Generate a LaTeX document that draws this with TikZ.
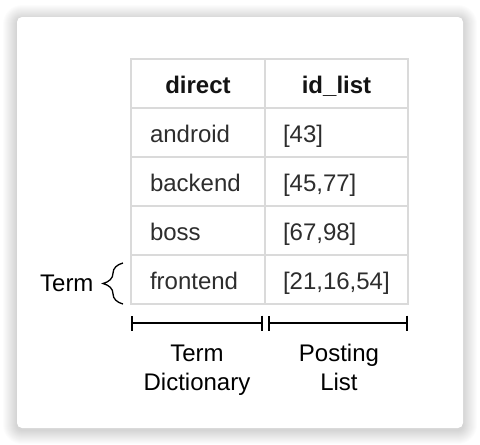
\documentclass[tikz,border=0pt]{standalone}
\usepackage{fontspec}
\setmainfont{Liberation Sans}
\usepackage{tikz}
\usetikzlibrary{arrows.meta,positioning,decorations.pathreplacing}
\definecolor{grid}{RGB}{218, 218, 218}
\definecolor{cellgray}{RGB}{45, 45, 45}
\definecolor{headgray}{RGB}{20, 20, 20}
\newcommand{\tabfont}{\fontsize{24}{29}\selectfont}
\tikzstyle{cell} = [draw=grid, line width=1.5pt, outer sep=0pt, text=cellgray, font=\tabfont, minimum height=49pt, text height=20pt, text depth=0pt, inner ysep=0pt]
\tikzstyle{termcol} = [cell, inner xsep=19pt, text width=96pt]
\tikzstyle{listcol} = [cell, inner xsep=18pt, text width=107pt]
\tikzstyle{head} = [align=center, text=headgray, font=\tabfont\bfseries]
\tikzstyle{body} = [align=left]
\tikzstyle{outer} = [text=black, font=\tabfont, align=center]
\tikzstyle{caption} = [outer, font=\tabfont\strut]
\tikzstyle{termbrace} = [draw, line width=1.3pt, decorate, decoration={brace, amplitude=20pt}]
\tikzstyle{span} = [draw, line width=2pt, {Bar[width=15pt]}-{Bar[width=15pt]}]

\begin{document}
\begin{tikzpicture}[x=1pt, y=-1pt]

% card =============================
\useasboundingbox (0,0) rectangle (480,445);
\fill[white] (0,0) rectangle (480,445);
\foreach \i in {1,...,14}
  \fill[black, opacity=0.012, rounded corners={5+\i}] ({17-\i},{19-\i}) rectangle ({463+\i},{430+\i});
\fill[white, rounded corners=5pt] (17,17) rectangle (463,428);

% table header
\node[termcol, head] (direct) at (198,83.5) {direct};
\node[listcol, head, right=0pt of direct] (idlist) {id\_list};

% terms
\node[termcol, body, below=0pt of direct] (android) {android};
\node[termcol, body, below=0pt of android] (backend) {backend};
\node[termcol, body, below=0pt of backend] (boss) {boss};
\node[termcol, body, below=0pt of boss] (frontend) {frontend};

% posting lists
\node[listcol, body, below=0pt of idlist] (list1) {[43]};
\node[listcol, body, below=0pt of list1] (list2) {[45,77]};
\node[listcol, body, below=0pt of list2] (list3) {[67,98]};
\node[listcol, body, below=0pt of list3] (list4) {[21,16,54]};

% term brace
\coordinate[left=8pt of frontend.south west] (bracebot);
\coordinate[below left=8pt and 8pt of frontend.north west] (bracetop);
\coordinate[below left=4pt and 28pt of frontend.west] (bracetip);
\node[outer, left=6pt of bracetip] (term) {Term};

% spans
\coordinate[below=19pt of frontend.south west] (dictl);
\coordinate[below left=19pt and 2.5pt of frontend.south east] (dictr);
\coordinate[below right=19pt and 2.5pt of list4.south west] (postl);
\coordinate[below=19pt of list4.south east] (postr);
\node[caption, below=37pt of frontend.south, xshift=-1pt] (dict) {Term\\Dictionary};
\node[caption, below=37pt of list4.south, xshift=2.5pt] (posting) {Posting\\List};

%edges
\path[termbrace] (bracebot) -- (bracetop);
\path[span] (dictl) -- (dictr);
\path[span] (postl) -- (postr);

\end{tikzpicture}
\end{document}
